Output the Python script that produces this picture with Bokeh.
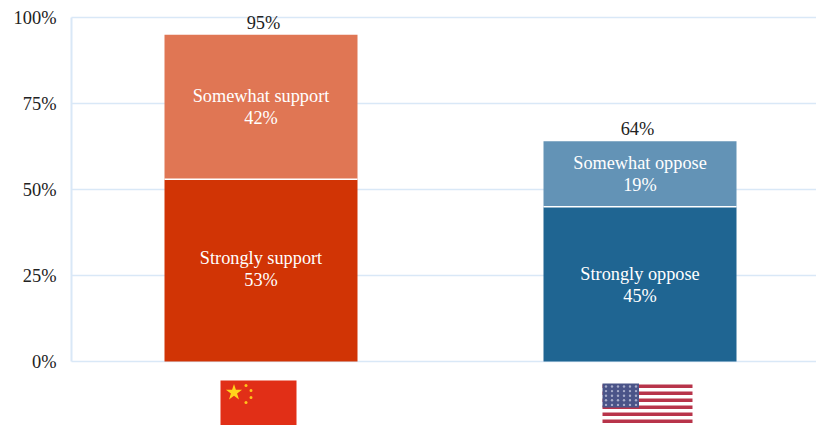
from bokeh.plotting import figure
from bokeh.models import Range1d, FixedTicker, CustomJSTickFormatter
from bokeh.core.properties import value
from bokeh.embed import file_html
from bokeh.resources import INLINE

positions = [0.5, 1.5]
strong_values = [53, 45]
somewhat_values = [42, 19]
totals = [95, 64]
strong_names = ["Strongly support", "Strongly oppose"]
somewhat_names = ["Somewhat support", "Somewhat oppose"]
strong_colors = ["#D13405", "#1F6592"]
somewhat_colors = ["#E07654", "#6393B6"]
strong_label_nudge = [0.5, -0.3]
y_ticks = [0, 25, 50, 75, 100]

SERIF = value("Liberation Serif")
GRID = "#D9E8F7"
PX_X = 379.0   # pixels per category
PX_Y = 3.44    # pixels per percent

p = figure(width=816, height=425, output_backend="svg", toolbar_location=None,
           x_range=Range1d(-2 / PX_X, 745 / PX_X), y_range=Range1d(-64 / PX_Y, 100 + 17 / PX_Y),
           min_border_left=69, min_border_right=0, min_border_top=0, min_border_bottom=0,
           outline_line_color=None, background_fill_color="white")

p.xaxis.visible = False
p.xgrid.visible = False
ax = p.yaxis[0]
ax.ticker = FixedTicker(ticks=y_ticks)
ax.formatter = CustomJSTickFormatter(code="return tick + '%'")
ax.axis_line_color = None
ax.major_tick_line_color = None
ax.minor_tick_line_color = None
ax.major_tick_out = 0
ax.major_tick_in = 0
ax.major_label_text_font = "Liberation Serif"
ax.major_label_text_font_size = "18.4px"
ax.major_label_text_color = "#222222"
ax.major_label_standoff = 13
p.ygrid.ticker = FixedTicker(ticks=y_ticks)
p.ygrid.grid_line_color = None

p.segment(x0=[0] * 5, x1=[745 / PX_X] * 5, y0=y_ticks, y1=y_ticks,
          line_color=GRID, line_width=1.5)
p.line([0, 0], [y_ticks[0], y_ticks[-1]], line_color=GRID, line_width=2)

bar_w = 193 / PX_X
p.vbar(x=positions, width=bar_w, bottom=0, top=strong_values,
       fill_color=strong_colors, line_color=None)
p.vbar(x=positions, width=bar_w, bottom=strong_values,
       top=[a + b for a, b in zip(strong_values, somewhat_values)],
       fill_color=somewhat_colors, line_color=None)
p.segment(x0=[x - bar_w / 2 for x in positions], x1=[x + bar_w / 2 for x in positions],
          y0=strong_values, y1=strong_values, line_color="white", line_width=1.5)

p.text(x=positions, y=[v / 2 + n for v, n in zip(strong_values, strong_label_nudge)],
       text=[f"{n}\n{v}%" for n, v in zip(strong_names, strong_values)],
       text_font=SERIF, text_font_size="18.3px", text_color="white", text_line_height=1.1,
       text_align="center", text_baseline="middle")
p.text(x=positions, y=[s + v / 2 for s, v in zip(strong_values, somewhat_values)],
       text=[f"{n}\n{v}%" for n, v in zip(somewhat_names, somewhat_values)],
       text_font=SERIF, text_font_size="18.3px", text_color="white", text_line_height=1.1,
       text_align="center", text_baseline="middle")
p.text(x=[x + 2.5 / PX_X * (1 if i == 0 else -1) for i, x in enumerate(positions)],
       y=totals, text=[f"{t}%" for t in totals], y_offset=-2,
       text_font=SERIF, text_font_size="18.4px", text_color="#222222",
       text_align="center", text_baseline="bottom")

# ---- flags, placed relative to each bar in pixel offsets below the axis ----
def fx(i, dx):
    return positions[i] + dx / PX_X

def fy(dy):
    return -dy / PX_Y

# China
p.quad(left=fx(0, -40.5), right=fx(0, 35.5), top=fy(19), bottom=fy(64),
       fill_color="#E12F17", line_color=None)
p.scatter(x=[fx(0, -27)], y=[fy(31)], marker="star", size=17,
          fill_color="#FFD41C", line_color=None)
p.scatter(x=[fx(0, -15), fx(0, -10), fx(0, -10), fx(0, -15)],
          y=[fy(24), fy(29), fy(36), fy(41)], marker="circle", size=3,
          fill_color="#FFC51C", line_color=None)

# USA
left, right = 341.5, 431.5
p.quad(left=fx(1, left - 379), right=fx(1, right - 379), top=fy(22), bottom=fy(64),
       fill_color="white", line_color=None)
stripe_tops = [23, 30, 37, 44, 51, 58]
p.quad(left=[fx(1, left - 379)] * 6, right=[fx(1, right - 379)] * 6,
       top=[fy(t) for t in stripe_tops], bottom=[fy(t + 3.6) for t in stripe_tops],
       fill_color="#B8344A", line_color=None)
p.quad(left=fx(1, left - 379), right=fx(1, left - 379 + 36.5), top=fy(22), bottom=fy(46),
       fill_color="#4A5488", line_color=None)
sx, sy = [], []
for r in range(5):
    for c in range(6):
        sx.append(fx(1, left - 379 + 3.5 + c * 6))
        sy.append(fy(25 + r * 4.6))
p.scatter(x=sx, y=sy, marker="circle", size=2.4, fill_color="#A9AECB", line_color=None)

open("out.html", "w").write(file_html(p, INLINE))
